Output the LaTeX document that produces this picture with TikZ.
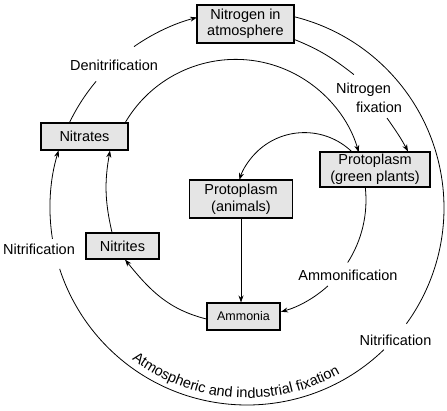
\documentclass[tikz,border=0pt]{standalone}
\usepackage{fontspec}
\setmainfont{Liberation Sans}
\usetikzlibrary{arrows.meta,decorations.text,calc}
\newcommand\diaglbl{\fontsize{14.5pt}{16.5pt}\selectfont}
\newcommand\diagsmall{\fontsize{12.5pt}{14pt}\selectfont}
\begin{document}
\begin{tikzpicture}[x=1pt,y=1pt,
  box/.style={draw=black, line width=1.1pt, fill=black!10, inner sep=0pt, align=center, font=\diaglbl},
  lab/.style={inner sep=0pt, font=\diaglbl, anchor=base},
  conn/.style={line width=0.8pt},
  arr/.style={conn, -{Stealth[length=7pt,width=5pt]}}]
\fill[white] (0,0) rectangle (447,410);
\useasboundingbox (0,0) rectangle (447,410);

% boxes
\node[box, minimum width=97pt, minimum height=38pt] (nitro) at (245.5,386) {Nitrogen in\\atmosphere};
\node[box, minimum width=87pt, minimum height=27pt] (nitrates) at (84.5,273.5) {Nitrates};
\node[box, minimum width=110pt, minimum height=35pt] (green) at (375,240.5) {Protoplasm\\(green plants)};
\node[box, minimum width=103pt, minimum height=38pt] (animals) at (241,211) {Protoplasm\\(animals)};
\node[box, minimum width=73pt, minimum height=26pt] (nitrites) at (122.5,164) {Nitrites};
\node[box, minimum width=73pt, minimum height=27pt, font=\diagsmall] (ammonia) at (243.5,93.5) {Ammonia};

% labels
\node[lab] (denit) at (114,339) {Denitrification};
\node[lab] (nf1) at (363.5,316.7) {Nitrogen};
\node[lab] (nf2) at (379,297.3) {fixation};
\node[lab] (nitrL) at (39,155) {Nitrification};
\node[lab] (ammon) at (348,130) {Ammonification};
\node[lab] (nitrR) at (395.5,65) {Nitrification};

% centres of the arcs
\coordinate (O) at (247,202);
\coordinate (I1) at (235.6,222.6);
\coordinate (I2) at (304.4,209);
\coordinate (I3) at (250,210);

% outer cycle
\draw[conn] (O) ++(76:197pt) arc[start angle=76,end angle=-36,radius=197pt];
\draw[conn] (O) ++(-46:197pt) arc[start angle=-46,end angle=-162,radius=197pt];
\draw[arr] (O) ++(189:197pt) arc[start angle=189,end angle=163,radius=197pt];
\draw[conn] (O) ++(154.4:197pt) arc[start angle=154.4,end angle=140,radius=197pt];
\draw[arr] (O) ++(125:197pt) arc[start angle=125,end angle=104.7,radius=197pt];

% text along the bottom of the outer cycle
\path[decorate, decoration={text along path, text={|\diaglbl|Atmospheric and industrial fixation}, text align=center}]
  (O) ++(226:190pt) arc[start angle=226,end angle=306,radius=190pt];

% nitrogen fixation
\draw[conn] ([yshift=4pt]nitro.south east) to[out=-22,in=142] ($(nf1.north west)+(18,8)$);
\draw[arr] ($(nf2.south)+(8,-5)$) to[out=-55,in=118] ([xshift=33pt]green.north);

% inner arcs
\draw[arr] (I1) ++(150:128pt) arc[start angle=150,end angle=16,radius=128pt];
\draw[arr] (I2) ++(46:68.4pt) arc[start angle=46,end angle=162,radius=68.4pt];
\draw[conn] (I3) ++(6.2:116pt) arc[start angle=6.2,end angle=-32.6,radius=116pt];
\draw[arr] (I3) ++(-47.8:116pt) arc[start angle=-47.8,end angle=-74.5,radius=116pt];

% straight and short connectors
\draw[arr] (animals.south) -- (animals.south |- ammonia.north);
\draw[arr] ([yshift=-2.5pt]ammonia.west) to[out=166,in=-51] ([xshift=2.5pt]nitrites.south);
\draw[arr] ([xshift=-10.5pt]nitrites.north) to[out=103,in=-100] ([xshift=25.5pt]nitrates.south);
\end{tikzpicture}
\end{document}
